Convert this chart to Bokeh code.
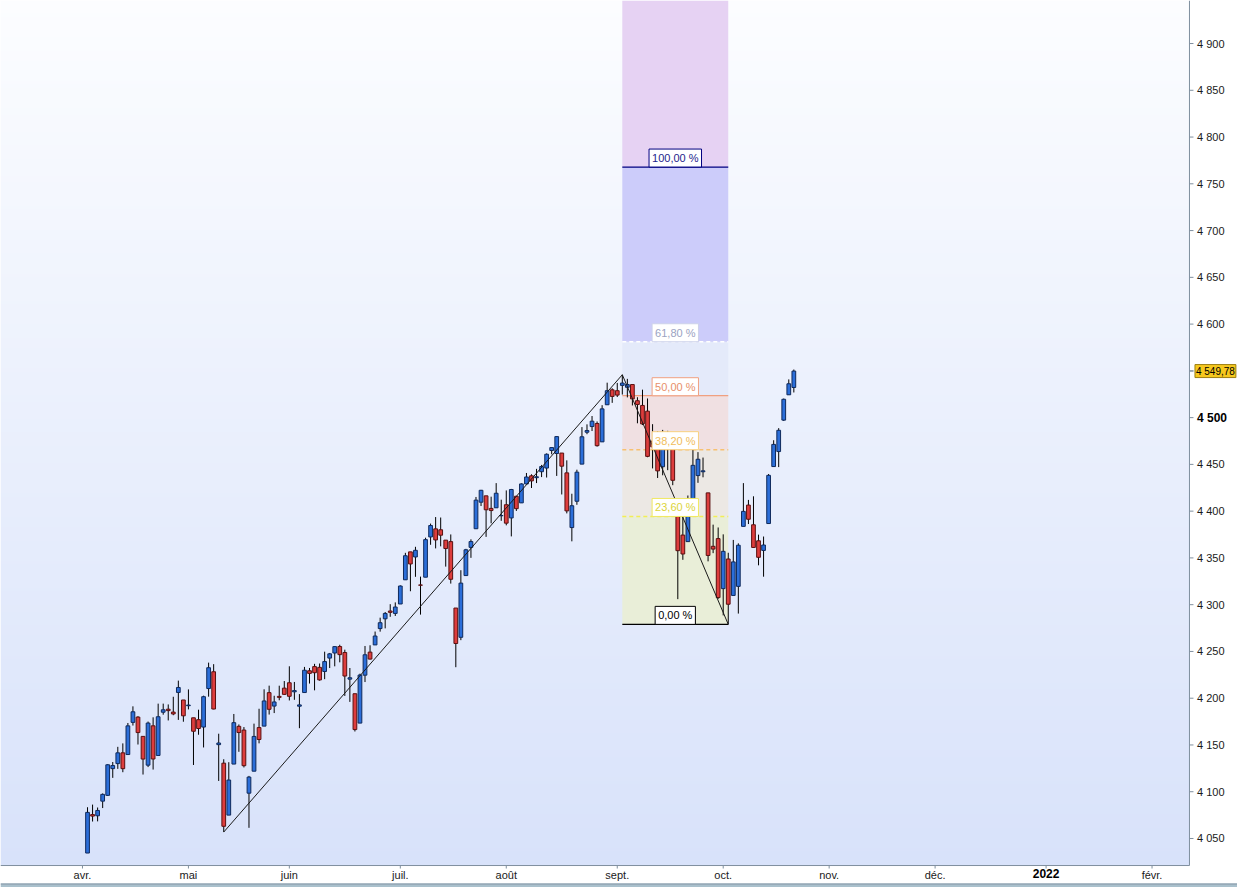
import numpy as np
from bokeh.plotting import figure
from bokeh.models import Label, ColumnDataSource, Range1d
from bokeh.core.properties import value
from bokeh.embed import file_html
from bokeh.resources import INLINE

# ---------------- data (S&P 500 daily) ----------------
dates = [
    "2021-04-05", "2021-04-06", "2021-04-07", "2021-04-08", "2021-04-09",
    "2021-04-12", "2021-04-13", "2021-04-14", "2021-04-15", "2021-04-16",
    "2021-04-19", "2021-04-20", "2021-04-21", "2021-04-22", "2021-04-23",
    "2021-04-26", "2021-04-27", "2021-04-28", "2021-04-29", "2021-04-30",
    "2021-05-03", "2021-05-04", "2021-05-05", "2021-05-06", "2021-05-07",
    "2021-05-10", "2021-05-11", "2021-05-12", "2021-05-13", "2021-05-14",
    "2021-05-17", "2021-05-18", "2021-05-19", "2021-05-20", "2021-05-21",
    "2021-05-24", "2021-05-25", "2021-05-26", "2021-05-27", "2021-05-28",
    "2021-06-01", "2021-06-02", "2021-06-03", "2021-06-04",
    "2021-06-07", "2021-06-08", "2021-06-09", "2021-06-10", "2021-06-11",
    "2021-06-14", "2021-06-15", "2021-06-16", "2021-06-17", "2021-06-18",
    "2021-06-21", "2021-06-22", "2021-06-23", "2021-06-24", "2021-06-25",
    "2021-06-28", "2021-06-29", "2021-06-30",
    "2021-07-01", "2021-07-02", "2021-07-06", "2021-07-07", "2021-07-08",
    "2021-07-09", "2021-07-12", "2021-07-13", "2021-07-14", "2021-07-15",
    "2021-07-16", "2021-07-19", "2021-07-20", "2021-07-21", "2021-07-22",
    "2021-07-23", "2021-07-26", "2021-07-27", "2021-07-28", "2021-07-29",
    "2021-07-30",
    "2021-08-02", "2021-08-03", "2021-08-04", "2021-08-05", "2021-08-06",
    "2021-08-09", "2021-08-10", "2021-08-11", "2021-08-12", "2021-08-13",
    "2021-08-16", "2021-08-17", "2021-08-18", "2021-08-19", "2021-08-20",
    "2021-08-23", "2021-08-24", "2021-08-25", "2021-08-26", "2021-08-27",
    "2021-08-30", "2021-08-31",
    "2021-09-01", "2021-09-02", "2021-09-03", "2021-09-07", "2021-09-08",
    "2021-09-09", "2021-09-10", "2021-09-13", "2021-09-14", "2021-09-15",
    "2021-09-16", "2021-09-17", "2021-09-20", "2021-09-21", "2021-09-22",
    "2021-09-23", "2021-09-24", "2021-09-27", "2021-09-28", "2021-09-29",
    "2021-09-30",
    "2021-10-01", "2021-10-04", "2021-10-05", "2021-10-06", "2021-10-07",
    "2021-10-08", "2021-10-11", "2021-10-12", "2021-10-13", "2021-10-14",
    "2021-10-15", "2021-10-18", "2021-10-19", "2021-10-20", "2021-10-21",
]

opens = [
    4034.44, 4075.57, 4074.29, 4089.95, 4096.11,
    4124.71, 4130.10, 4141.58, 4139.76, 4174.14,
    4179.80, 4159.18, 4128.42, 4170.46, 4138.78,
    4185.03, 4188.25, 4185.14, 4206.14, 4198.10,
    4191.98, 4179.04, 4177.06, 4169.14, 4210.34,
    4228.29, 4150.34, 4130.55, 4074.99, 4129.58,
    4169.92, 4165.94, 4098.45, 4121.97, 4168.61,
    4170.16, 4205.94, 4191.59, 4201.94, 4210.77,
    4216.52, 4206.82, 4191.43, 4206.05,
    4229.34, 4233.81, 4232.99, 4228.56, 4242.90,
    4248.31, 4255.28, 4248.87, 4220.37, 4204.78,
    4173.40, 4224.61, 4249.27, 4256.97, 4274.45,
    4284.90, 4293.21, 4290.65,
    4300.73, 4326.60, 4356.46, 4351.01, 4321.07,
    4329.38, 4372.41, 4381.07, 4380.11, 4369.02,
    4367.43, 4296.40, 4265.11, 4331.13, 4361.27,
    4381.20, 4409.58, 4416.38, 4402.95, 4403.59,
    4395.12,
    4406.86, 4392.74, 4415.95, 4408.86, 4429.07,
    4437.77, 4435.79, 4442.18, 4446.08, 4464.84,
    4461.65, 4462.12, 4440.94, 4382.44, 4410.56,
    4450.29, 4484.40, 4490.45, 4493.75, 4474.10,
    4513.76, 4529.75,
    4528.80, 4534.48, 4532.42, 4535.38, 4518.09,
    4513.02, 4506.92, 4474.81, 4479.33, 4447.49,
    4477.09, 4469.74, 4402.95, 4374.45, 4367.43,
    4406.75, 4438.04, 4442.12, 4419.54, 4362.41,
    4370.67,
    4317.16, 4348.84, 4309.87, 4319.57, 4383.73,
    4406.51, 4385.44, 4368.31, 4358.01, 4386.75,
    4447.69, 4463.72, 4497.34, 4524.42, 4532.24,
]

highs = [
    4083.42, 4086.23, 4083.13, 4098.19, 4129.48,
    4131.76, 4148.00, 4151.69, 4173.49, 4191.31,
    4180.81, 4159.18, 4175.02, 4179.57, 4194.17,
    4194.19, 4193.35, 4201.53, 4218.78, 4198.10,
    4209.39, 4179.04, 4187.72, 4202.70, 4238.04,
    4236.39, 4162.04, 4134.73, 4131.58, 4183.13,
    4171.92, 4169.15, 4116.93, 4172.80, 4188.72,
    4209.52, 4213.42, 4202.61, 4213.38, 4218.36,
    4234.12, 4217.37, 4204.39, 4233.45,
    4232.34, 4236.74, 4237.09, 4249.74, 4248.38,
    4255.59, 4257.16, 4251.89, 4232.29, 4204.78,
    4226.24, 4255.84, 4256.60, 4271.28, 4286.12,
    4292.14, 4300.52, 4302.43,
    4320.66, 4355.43, 4356.46, 4361.88, 4330.00,
    4371.60, 4386.68, 4393.68, 4393.18, 4369.02,
    4375.09, 4296.40, 4336.84, 4359.70, 4369.87,
    4415.18, 4422.73, 4416.38, 4415.47, 4429.97,
    4412.25,
    4422.18, 4423.79, 4416.17, 4429.76, 4440.82,
    4439.39, 4445.21, 4449.44, 4461.77, 4468.37,
    4480.26, 4462.12, 4454.32, 4418.61, 4444.35,
    4489.88, 4492.81, 4501.71, 4495.90, 4513.33,
    4537.36, 4531.39,
    4537.11, 4545.85, 4541.45, 4535.38, 4521.79,
    4529.90, 4520.47, 4492.99, 4485.68, 4486.87,
    4485.87, 4471.52, 4402.95, 4394.87, 4416.75,
    4465.40, 4463.12, 4457.30, 4419.54, 4385.57,
    4382.55,
    4375.19, 4355.51, 4369.23, 4365.57, 4429.97,
    4412.02, 4415.88, 4374.89, 4372.87, 4439.73,
    4475.82, 4488.75, 4520.40, 4540.87, 4551.44,
]

lows = [
    4034.44, 4068.14, 4068.31, 4082.54, 4095.51,
    4114.82, 4124.43, 4120.87, 4139.76, 4170.75,
    4150.47, 4118.38, 4126.35, 4123.69, 4138.78,
    4182.36, 4176.22, 4181.78, 4176.81, 4174.85,
    4188.03, 4128.59, 4160.94, 4147.33, 4201.64,
    4188.13, 4111.53, 4056.88, 4074.99, 4129.58,
    4142.69, 4125.99, 4061.41, 4121.97, 4151.72,
    4170.16, 4182.52, 4184.11, 4197.78, 4203.57,
    4197.59, 4198.27, 4167.93, 4206.05,
    4215.66, 4208.41, 4218.74, 4220.34, 4232.25,
    4234.07, 4238.35, 4202.45, 4196.05, 4164.40,
    4173.40, 4217.27, 4241.43, 4256.97, 4271.16,
    4274.67, 4287.04, 4287.96,
    4300.73, 4326.60, 4314.37, 4329.79, 4289.37,
    4329.38, 4364.03, 4360.18, 4362.36, 4340.70,
    4322.53, 4233.13, 4262.05, 4331.13, 4350.06,
    4381.20, 4405.45, 4372.51, 4387.01, 4403.59,
    4389.65,
    4384.81, 4373.00, 4400.23, 4408.86, 4429.07,
    4424.74, 4430.03, 4436.42, 4435.96, 4460.82,
    4437.66, 4417.83, 4397.59, 4367.73, 4406.80,
    4450.29, 4482.28, 4485.66, 4468.99, 4474.10,
    4513.76, 4515.80,
    4522.02, 4524.66, 4521.65, 4513.00, 4493.95,
    4492.07, 4457.66, 4445.70, 4435.46, 4438.37,
    4443.80, 4427.76, 4305.91, 4347.96, 4367.43,
    4406.75, 4430.27, 4436.19, 4346.33, 4355.08,
    4306.24,
    4288.52, 4278.94, 4309.87, 4290.49, 4383.73,
    4386.22, 4360.59, 4342.09, 4329.92, 4386.75,
    4447.69, 4447.10, 4496.41, 4524.40, 4526.89,
]

closes = [
    4077.91, 4073.94, 4079.95, 4097.17, 4128.80,
    4127.99, 4141.59, 4124.66, 4170.42, 4185.47,
    4163.26, 4134.94, 4173.42, 4134.98, 4180.17,
    4187.62, 4186.72, 4183.18, 4211.47, 4181.17,
    4192.66, 4164.66, 4167.59, 4201.62, 4232.60,
    4188.43, 4152.10, 4063.04, 4112.50, 4173.85,
    4163.29, 4127.83, 4115.68, 4159.12, 4155.86,
    4197.05, 4188.13, 4195.99, 4200.88, 4204.11,
    4202.04, 4208.12, 4192.85, 4229.89,
    4226.52, 4227.26, 4219.55, 4239.18, 4247.44,
    4255.15, 4246.59, 4223.70, 4221.86, 4166.45,
    4224.79, 4246.44, 4241.84, 4266.49, 4280.70,
    4290.61, 4291.80, 4297.50,
    4319.94, 4352.34, 4343.54, 4358.13, 4320.82,
    4369.55, 4384.63, 4369.21, 4374.30, 4360.03,
    4327.16, 4258.49, 4323.06, 4358.69, 4367.48,
    4411.79, 4422.30, 4401.46, 4400.64, 4419.15,
    4395.26,
    4387.16, 4423.15, 4402.66, 4429.10, 4436.52,
    4432.35, 4436.75, 4447.70, 4460.83, 4468.00,
    4479.71, 4448.08, 4400.27, 4405.80, 4441.67,
    4479.53, 4486.23, 4496.19, 4470.00, 4509.37,
    4528.79, 4522.68,
    4524.09, 4536.95, 4535.43, 4520.03, 4514.07,
    4493.28, 4458.58, 4468.73, 4443.05, 4480.70,
    4473.75, 4432.99, 4357.73, 4354.19, 4395.64,
    4448.98, 4455.48, 4443.11, 4352.63, 4359.46,
    4307.54,
    4357.04, 4300.46, 4345.72, 4363.55, 4399.76,
    4391.34, 4361.19, 4350.65, 4363.80, 4438.26,
    4471.37, 4486.46, 4519.63, 4536.19, 4549.78,
]

# trading-day axis (weekends and market holidays skipped)
AXIS_ORIGIN = "2021-04-01"
HOLIDAYS = ["2021-04-02", "2021-05-31", "2021-07-05", "2021-09-06",
            "2021-11-25", "2021-12-24"]
month_starts = ["2021-04-01", "2021-05-01", "2021-06-01", "2021-07-01",
                "2021-08-01", "2021-09-01", "2021-10-01", "2021-11-01",
                "2021-12-01", "2022-01-01", "2022-02-01"]
month_labels = ["avr.", "mai", "juin", "juil.", "août", "sept.", "oct.",
                "nov.", "déc.", "2022", "févr."]
bold_month_label = "2022"

price_ticks = list(range(4050, 4901, 50))
bold_price_tick = 4500
last_price_label = "4 549,78"

fib_ratios = [0.0, 0.236, 0.382, 0.5, 0.618, 1.0]
fib_labels = ["0,00 %", "23,60 %", "38,20 %", "50,00 %", "61,80 %", "100,00 %"]
swing_dates = ["2021-05-12", "2021-09-02", "2021-10-04"]

# ---------------- layout / styles ----------------
W, H = 1237, 887
X_MIN, X_MAX = -16.25, 228.94        # whole canvas, trading-day units
Y_MIN, Y_MAX = 3997.6, 4946.0        # whole canvas, index points
PLOT_RIGHT = 219.42                  # price-axis line position
PLOT_BOTTOM = 4021.1                 # time-axis line position
XU = (X_MAX - X_MIN) / W             # data units per screen pixel
YU = (Y_MAX - Y_MIN) / H

FONT = "Liberation Sans"
BLUE, BLUE_EDGE = "#2b6ed9", "#0f2a5c"
RED, RED_EDGE = "#dd3d3d", "#5a1010"
ZONE_COLORS = ["#e9eed8", "#ece8e4", "#f0e0e2", "#e4eafa", "#ccccfa", "#e6d2f3"]
LEVEL_LINE = [("#000000", "solid", 1.2), ("#f2ee55", "4 3", 1.5),
              ("#f7c070", "4 3", 1.5), ("#f0a080", "solid", 1.2),
              ("#ffffff", "4 3", 1.5), ("#000080", "solid", 1.2)]
LEVEL_TEXT = ["#000000", "#dcd43a", "#f0bc5c", "#e8906a", "#9aa2c2", "#1e1e8c"]
LEVEL_BORDER = ["#000000", "#f0e860", "#f8d080", "#f0a080", "#cdd2ea", "#000080"]
AXIS_COLOR = "#7f8f9f"
TICK_TEXT = "#1a1a1a"

# ---------------- derived ----------------
hol = np.array(HOLIDAYS, dtype="datetime64[D]")
origin = np.datetime64(AXIS_ORIGIN)
xi = np.busday_count(origin, np.array(dates, dtype="datetime64[D]"), holidays=hol)
month_idx = [int(v) for v in np.busday_count(
    origin, np.array(month_starts, dtype="datetime64[D]"), holidays=hol)]

o = np.array(opens); h = np.array(highs); l = np.array(lows); c = np.array(closes)
up = c >= o
src = ColumnDataSource(dict(
    x=xi, top=np.maximum(o, c), bottom=np.minimum(o, c), high=h, low=l,
    fill=np.where(up, BLUE, RED), edge=np.where(up, BLUE_EDGE, RED_EDGE),
))

i0, i1, i2 = (dates.index(d) for d in swing_dates)
sw_x = [int(xi[i0]), int(xi[i1]), int(xi[i2])]
sw_y = [lows[i0], highs[i1], lows[i2]]
swing = sw_y[1] - sw_y[0]
levels = [sw_y[2] + r * swing for r in fib_ratios]
zx0, zx1 = sw_x[1], sw_x[2]

# ---------------- figure ----------------
p = figure(width=W, height=H,
           x_range=Range1d(X_MIN, X_MAX), y_range=Range1d(Y_MIN, Y_MAX),
           x_axis_location=None, y_axis_location=None,
           output_backend="svg", toolbar_location=None,
           min_border_left=0, min_border_top=0, min_border_right=0,
           min_border_bottom=0)
p.outline_line_color = None
p.grid.visible = False
p.border_fill_color = "#ffffff"
p.background_fill_color = "#ffffff"

# vertical background gradient of the plotting area
N = 256
t = np.linspace(0.0, 1.0, N)[:, None]
bot = np.array([216, 226, 250], dtype=float)
topc = np.array([252, 253, 255], dtype=float)
rgb = (bot + (topc - bot) * t).round().astype(np.uint8)
img = np.zeros((N, 1), dtype=np.uint32)
view = img.view(dtype=np.uint8).reshape((N, 1, 4))
view[:, 0, 0] = rgb[:, 0]
view[:, 0, 1] = rgb[:, 1]
view[:, 0, 2] = rgb[:, 2]
view[:, 0, 3] = 255
p.image_rgba(image=[img], x=X_MIN, y=PLOT_BOTTOM,
             dw=PLOT_RIGHT - X_MIN, dh=Y_MAX - PLOT_BOTTOM)

# fibonacci zones
z_top = levels[1:] + [Y_MAX]
p.quad(left=[zx0] * len(levels), right=[zx1] * len(levels),
       bottom=levels, top=z_top, fill_color=ZONE_COLORS, line_color=None)

# level lines
for lev, (col, dash, lw) in zip(levels, LEVEL_LINE):
    p.segment(x0=[zx0], y0=[lev], x1=[zx1], y1=[lev],
              line_color=col, line_dash=dash, line_width=lw)

# candles
p.segment(x0="x", y0="low", x1="x", y1="high", source=src,
          line_color="#000000", line_width=1)
p.vbar(x="x", width=0.74, top="top", bottom="bottom", source=src,
       fill_color="fill", line_color="edge", line_width=1)

# swing zigzag
p.line(sw_x, sw_y, line_color="#1a1a1a", line_width=1)

# fib labels
for lev, txt, tc, bc in zip(levels, fib_labels, LEVEL_TEXT, LEVEL_BORDER):
    p.add_layout(Label(x=(zx0 + zx1) / 2, y=lev, text=txt,
                       text_align="center", text_baseline="bottom",
                       y_offset=0, text_font=FONT, text_font_size="11px",
                       text_color=tc, background_fill_color="#ffffff",
                       border_line_color=bc, border_line_width=1, padding=3))

# ---------------- price axis (right) ----------------
p.segment(x0=[PLOT_RIGHT], y0=[PLOT_BOTTOM], x1=[PLOT_RIGHT], y1=[Y_MAX],
          line_color=AXIS_COLOR, line_width=1)
ytick_vals = price_ticks + [closes[-1]]
p.segment(x0=[PLOT_RIGHT] * len(ytick_vals), y0=ytick_vals,
          x1=[PLOT_RIGHT + 4 * XU] * len(ytick_vals), y1=ytick_vals,
          line_color=AXIS_COLOR, line_width=1)
reg_ticks = [v for v in price_ticks
             if v != bold_price_tick and abs(v - closes[-1]) > 10]
p.text(x=[PLOT_RIGHT + 7.5 * XU] * len(reg_ticks), y=reg_ticks,
       text=[f"{v // 1000} {v % 1000:03d}" for v in reg_ticks],
       text_font=value(FONT), text_font_size="11px", text_color=TICK_TEXT,
       text_align="left", text_baseline="middle")
p.text(x=[PLOT_RIGHT + 7.5 * XU], y=[bold_price_tick],
       text=[f"{bold_price_tick // 1000} {bold_price_tick % 1000:03d}"],
       text_font=value(FONT), text_font_size="12px", text_font_style="bold",
       text_color="#000000", text_align="left", text_baseline="middle")

# last price tag
p.add_layout(Label(x=PLOT_RIGHT + 5.5 * XU, y=closes[-1], text=last_price_label,
                   text_align="left", text_baseline="middle", text_font=FONT,
                   text_font_size="10px", text_color="#000000",
                   background_fill_color="#f6c81e", border_line_color="#9c7d10",
                   border_line_width=1, padding=1))

# ---------------- time axis (bottom) ----------------
p.segment(x0=[X_MIN], y0=[PLOT_BOTTOM], x1=[PLOT_RIGHT], y1=[PLOT_BOTTOM],
          line_color=AXIS_COLOR, line_width=1)
p.segment(x0=month_idx, y0=[PLOT_BOTTOM] * len(month_idx),
          x1=month_idx, y1=[PLOT_BOTTOM - 3 * YU] * len(month_idx),
          line_color=AXIS_COLOR, line_width=1)
reg_m = [(m, lab) for m, lab in zip(month_idx, month_labels) if lab != bold_month_label]
p.text(x=[m for m, _ in reg_m], y=[PLOT_BOTTOM - 3.5 * YU] * len(reg_m),
       text=[lab for _, lab in reg_m],
       text_font=value(FONT), text_font_size="11px", text_color=TICK_TEXT,
       text_align="center", text_baseline="top")
m2022 = month_idx[month_labels.index(bold_month_label)]
p.text(x=[m2022], y=[PLOT_BOTTOM - 3 * YU], text=[bold_month_label],
       text_font=value(FONT), text_font_size="12px", text_font_style="bold",
       text_color="#000000", text_align="center", text_baseline="top")

# window status bar at the bottom edge
p.quad(left=[X_MIN], right=[X_MAX], bottom=[Y_MIN], top=[Y_MIN + 4 * YU],
       fill_color="#a9c0cc", line_color=None)
p.segment(x0=[X_MIN], y0=[Y_MIN + 3.5 * YU], x1=[X_MAX], y1=[Y_MIN + 3.5 * YU],
          line_color="#8596a6", line_width=1)

open("out.html", "w").write(file_html(p, INLINE))
